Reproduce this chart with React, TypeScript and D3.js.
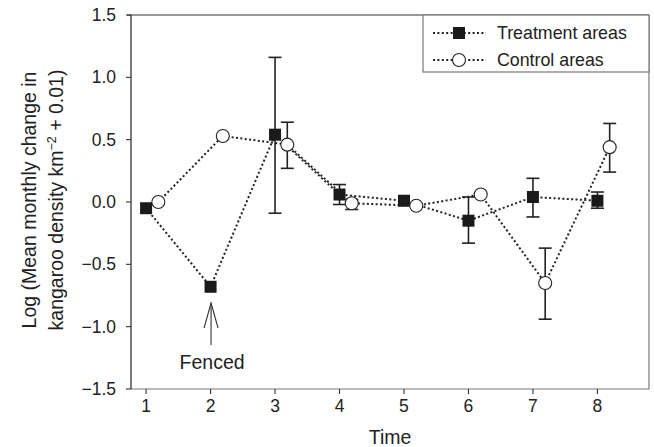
import React from "react";
import * as d3 from "d3";

const times = [1, 2, 3, 4, 5, 6, 7, 8];
const treatmentMean = [-0.05, -0.68, 0.54, 0.06, 0.01, -0.15, 0.04, 0.01];
const treatmentLow = [null, null, -0.09, -0.02, null, -0.33, -0.12, -0.05];
const treatmentHigh = [null, null, 1.16, 0.14, null, 0.04, 0.19, 0.08];
const controlMean = [0.0, 0.53, 0.46, -0.01, -0.03, 0.06, -0.65, 0.44];
const controlLow = [null, null, 0.27, -0.06, null, null, -0.94, 0.24];
const controlHigh = [null, null, 0.64, 0.02, null, null, -0.37, 0.63];
const yTicks = [-1.5, -1.0, -0.5, 0.0, 0.5, 1.0, 1.5];
const controlOffset = 0.19;

const W = 654;
const H = 447;
const left = 131;
const right = 649;
const top = 15;
const bottom = 389;
const FONT = "'Liberation Sans', Arial, Helvetica, sans-serif";
const fmt = (v: number) => (v < 0 ? "\u2212" + Math.abs(v).toFixed(1) : v.toFixed(1));

export default function App() {
  const x = d3.scaleLinear().domain([0.766, 8.8]).range([left, right]);
  const y = d3.scaleLinear().domain([-1.5, 1.5]).range([bottom, top]);
  const tData = times.map((t, i) => ({ x: t, y: treatmentMean[i], lo: treatmentLow[i], hi: treatmentHigh[i] }));
  const cData = times.map((t, i) => ({ x: t + controlOffset, y: controlMean[i], lo: controlLow[i], hi: controlHigh[i] }));
  const line = d3.line<{ x: number; y: number }>().x((d) => x(d.x)).y((d) => y(d.y));
  const dash = "2 2.4";
  const ink = "#222";
  const cap = 6.5;
  const errBars = (data: any[], key: string) =>
    data
      .filter((d) => d.lo !== null)
      .map((d, i) => (
        <g key={key + i} stroke={ink} strokeWidth={1.6}>
          <line x1={x(d.x)} x2={x(d.x)} y1={y(d.lo)} y2={y(d.hi)} />
          <line x1={x(d.x) - cap} x2={x(d.x) + cap} y1={y(d.lo)} y2={y(d.lo)} />
          <line x1={x(d.x) - cap} x2={x(d.x) + cap} y1={y(d.hi)} y2={y(d.hi)} />
        </g>
      ));
  const ax = x(2) + 0.5;
  const arrowTip = y(-0.81);
  return (
    <svg width={W} height={H} style={{ position: "absolute", left: 0, top: 0 }} fontFamily={FONT}>
      <rect x={0} y={0} width={W} height={H} fill="#fff" />
      {/* frame */}
      <line x1={right} x2={right} y1={top} y2={bottom} stroke="#777" strokeWidth={1.2} />
      <line x1={left - 4} x2={right} y1={top} y2={top} stroke="#333" strokeWidth={1.2} />
      <line x1={left} x2={right} y1={bottom} y2={bottom} stroke="#777" strokeWidth={1.2} />
      <line x1={left} x2={left} y1={top} y2={bottom} stroke="#222" strokeWidth={1.2} />
      {/* y ticks */}
      {yTicks.map((t) => (
        <g key={"y" + t}>
          <line x1={left - 5} x2={left} y1={y(t)} y2={y(t)} stroke="#333" strokeWidth={1.1} />
          <text x={left - 15} y={y(t)} dy="0.35em" textAnchor="end" fontSize={17.5} fill="#222">
            {fmt(t)}
          </text>
        </g>
      ))}
      {/* x ticks */}
      {times.map((t) => (
        <g key={"x" + t}>
          <line x1={x(t)} x2={x(t)} y1={bottom} y2={bottom + 5} stroke="#333" strokeWidth={1.1} />
          <text x={x(t)} y={bottom + 23} textAnchor="middle" fontSize={17.5} fill="#222">
            {t}
          </text>
        </g>
      ))}
      <text x={(left + right) / 2} y={444} textAnchor="middle" fontSize={19.5} fill="#222">
        Time
      </text>
      <text transform={`translate(36,${(top + bottom) / 2 - 2}) rotate(-90)`} textAnchor="middle" fontSize={19.5} fill="#222">
        Log (Mean monthly change in
      </text>
      <text transform={`translate(63,${(top + bottom) / 2 - 2}) rotate(-90)`} textAnchor="middle" fontSize={19.5} fill="#222">
        kangaroo density km<tspan dy="-7" fontSize={12.5}>{"\u22122"}</tspan>
        <tspan dy="7">{" + 0.01)"}</tspan>
      </text>
      {/* lines */}
      <path d={line(cData) || ""} fill="none" stroke={ink} strokeWidth={2} strokeDasharray={dash} />
      <path d={line(tData) || ""} fill="none" stroke={ink} strokeWidth={2} strokeDasharray={dash} />
      {errBars(tData, "t")}
      {errBars(cData, "c")}
      {tData.map((d, i) => (
        <rect key={"ts" + i} x={x(d.x) - 6} y={y(d.y) - 6} width={12} height={12} fill="#1a1a1a" />
      ))}
      {cData.map((d, i) => (
        <circle key={"cc" + i} cx={x(d.x)} cy={y(d.y)} r={6.5} fill="#fff" stroke={ink} strokeWidth={1.1} />
      ))}
      {/* arrow */}
      <g stroke="#333" strokeWidth={1.1} fill="none">
        <line x1={ax} x2={ax} y1={arrowTip} y2={arrowTip + 42} />
        <polyline points={`${ax - 7},${arrowTip + 25} ${ax},${arrowTip} ${ax + 7},${arrowTip + 25}`} />
      </g>
      <text x={ax + 1} y={369} textAnchor="middle" fontSize={19.5} fill="#222">
        Fenced
      </text>
      {/* legend */}
      <rect x={423} y={top} width={right - 423} height={57} fill="#fff" stroke="#777" strokeWidth={1.2} />
      <line x1={433} x2={486} y1={33} y2={33} stroke={ink} strokeWidth={2} strokeDasharray={dash} />
      <rect x={459 - 6} y={33 - 6} width={12} height={12} fill="#1a1a1a" />
      <text x={497} y={33} dy="0.35em" fontSize={17.8} fill="#222">
        Treatment areas
      </text>
      <line x1={433} x2={486} y1={60} y2={60} stroke={ink} strokeWidth={2} strokeDasharray={dash} />
      <circle cx={459} cy={60} r={6.5} fill="#fff" stroke={ink} strokeWidth={1.1} />
      <text x={497} y={60} dy="0.35em" fontSize={17.8} fill="#222">
        Control areas
      </text>
    </svg>
  );
}
